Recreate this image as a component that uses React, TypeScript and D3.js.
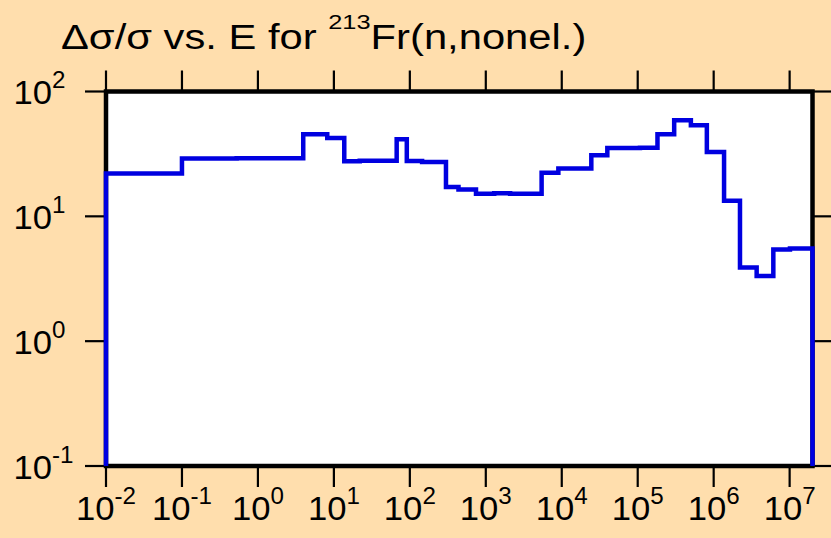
import React from "react";
import * as d3 from "d3";

// Bin edges (energy, eV) and relative uncertainty values (%) per bin
const energyEdges: number[] = [
  1e-2, 0.1, 0.525, 3.95, 8.18, 13.7, 21.9, 67.1, 91.2, 145, 299, 437, 743,
  1290, 2090, 5430, 9020, 24500, 39800, 107000, 182000, 302000, 501000, 813000,
  1.37e6, 2.22e6, 3.68e6, 6.1e6, 1.01e7, 2e7,
];
const uncertainty: number[] = [
  22.0, 29.0, 29.2, 45.5, 42.5, 27.6, 27.9, 41.5, 27.8, 27.3, 17.2, 16.4, 15.2,
  15.3, 15.2, 22.3, 24.2, 30.9, 35.3, 35.5, 45.5, 58.9, 53.7, 32.8, 13.3, 3.9,
  3.32, 5.43, 5.53,
];
const xTickExps: number[] = [-2, -1, 0, 1, 2, 3, 4, 5, 6, 7];
const yTickExps: number[] = [-1, 0, 1, 2];

const W = 831;
const H = 538;
const FONT = "'Liberation Sans', Arial, Helvetica, sans-serif";

export default function App() {
  const left = 106;
  const right = 812.5;
  const top = 91.5;
  const bottom = 466;

  const x = d3.scaleLog().domain([1e-2, 2e7]).range([left, right]);
  const y = d3.scaleLog().domain([0.1, 100]).range([bottom, top]);

  // build step path
  const pts: [number, number][] = [];
  pts.push([x(energyEdges[0]), y(0.1)]);
  uncertainty.forEach((v, i) => {
    pts.push([x(energyEdges[i]), y(v)]);
    pts.push([x(energyEdges[i + 1]), y(v)]);
  });
  pts.push([x(energyEdges[energyEdges.length - 1]), y(0.1)]);
  const line = d3.line<[number, number]>().x((d) => d[0]).y((d) => d[1]);
  const path = line(pts) || "";

  const tickLen = 19;
  const sx = 1.05;

  return (
    <svg
      width={W}
      height={H}
      style={{ position: "absolute", left: 0, top: 0, display: "block" }}
      fontFamily={FONT}
    >
      <rect x={0} y={0} width={W} height={H} fill="#ffdead" />
      <rect
        x={left}
        y={top}
        width={right - left}
        height={bottom - top}
        fill="#ffffff"
      />
      {/* title */}
      <text transform="translate(61,49) scale(1.21,1)" fontSize={34.5} fill="#000">
        Δσ/σ vs. E for{" "}
        <tspan fontSize={21} dy={-20}>
          213
        </tspan>
        <tspan fontSize={34.5} dy={20}>
          Fr(n,nonel.)
        </tspan>
      </text>

      {/* x ticks (top and bottom) */}
      {xTickExps.map((e) => {
        const xv = x(Math.pow(10, e));
        return (
          <g key={"x" + e}>
            <line x1={xv} x2={xv} y1={top} y2={top - tickLen - 2} stroke="#000" strokeWidth={2.2} />
            <line x1={xv} x2={xv} y1={bottom} y2={bottom + tickLen + 2} stroke="#000" strokeWidth={2.2} />
            <text
              transform={`translate(${xv},520) scale(${sx},1)`}
              fontSize={33}
              textAnchor="middle"
              fill="#000"
            >
              10
              <tspan fontSize={23} dy={-16}>
                {e < 0 ? "-" + Math.abs(e) : String(e)}
              </tspan>
            </text>
          </g>
        );
      })}

      {/* y ticks (left and right) */}
      {yTickExps.map((e) => {
        const yv = y(Math.pow(10, e));
        return (
          <g key={"y" + e}>
            <line x1={left} x2={left - tickLen - 2} y1={yv} y2={yv} stroke="#000" strokeWidth={2.2} />
            <line x1={right} x2={W} y1={yv} y2={yv} stroke="#000" strokeWidth={2.2} />
            <text
              transform={`translate(13.5,${yv + 12.5}) scale(${sx},1)`}
              fontSize={33}
              fill="#000"
            >
              10
              <tspan fontSize={23} dy={-16}>
                {e < 0 ? "-" + Math.abs(e) : String(e)}
              </tspan>
            </text>
          </g>
        );
      })}

      {/* frame */}
      <rect
        x={left}
        y={top}
        width={right - left}
        height={bottom - top}
        fill="none"
        stroke="#000"
        strokeWidth={4.5}
      />

      {/* data */}
      <path d={path} fill="none" stroke="#0000e0" strokeWidth={4.5} strokeLinejoin="miter" />
    </svg>
  );
}
